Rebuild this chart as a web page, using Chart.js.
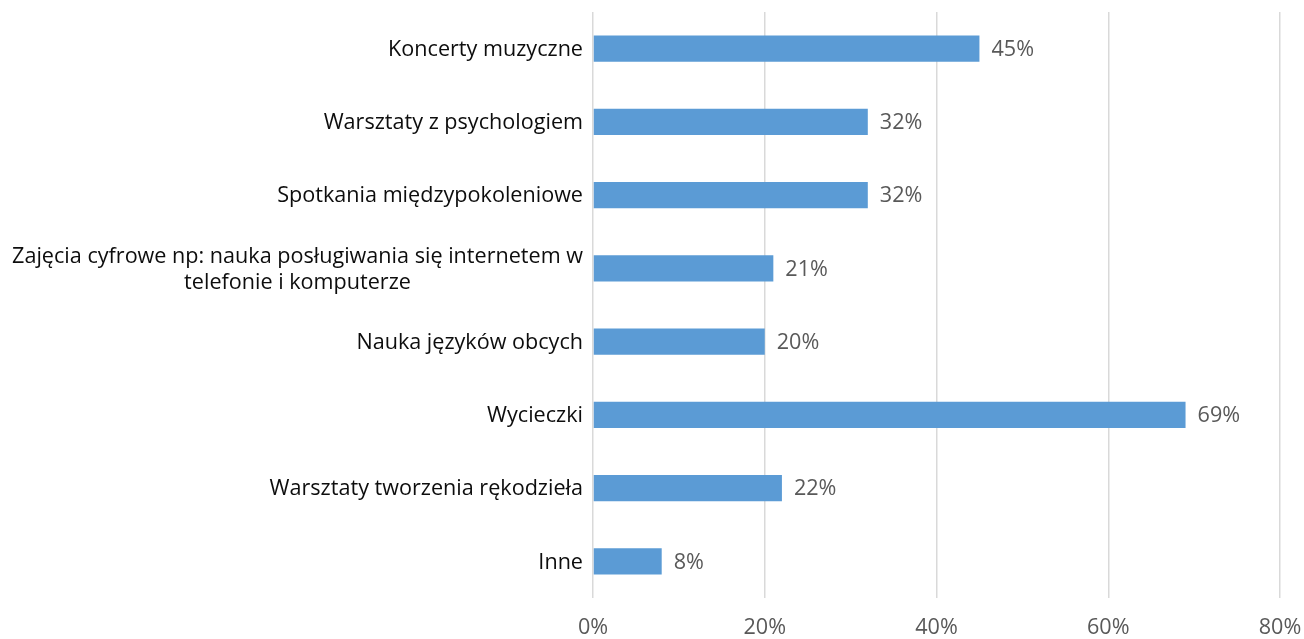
<!DOCTYPE html>
<html>
<head>
<meta charset="utf-8">
<script src="https://cdn.jsdelivr.net/npm/chart.js@4.4.1/dist/chart.umd.min.js"></script>
<style>
  html, body { margin: 0; padding: 0; background: #fff; }
  #wrap { width: 1304px; height: 639px; position: relative; }
</style>
</head>
<body>
<div id="wrap"><canvas id="chart"></canvas></div>
<script>
/* ── Data ── */
const categories = [
  "Koncerty muzyczne",
  "Warsztaty z psychologiem",
  "Spotkania międzypokoleniowe",
  ["Zajęcia cyfrowe np: nauka posługiwania się internetem w", "telefonie i komputerze"],
  "Nauka języków obcych",
  "Wycieczki",
  "Warsztaty tworzenia rękodzieła",
  "Inne"
];
const values   = [45, 32, 32, 21, 20, 69, 22, 8];
const xTicks   = [0, 20, 40, 60, 80];

/* ── Style ── */
const FONT      = "Open Sans";
const FSIZE     = 21.6;
const BAR       = "#5B9BD5";
const GRID      = "#D9D9D9";
const GRAY      = "#595959";
const AXIS_X    = 593;   /* left edge of plot area */

/* value labels at bar ends */
const valueLabels = {
  id: "valueLabels",
  afterDatasetsDraw(chart) {
    const ctx = chart.ctx;
    const meta = chart.getDatasetMeta(0);
    ctx.save();
    ctx.font = `${FSIZE}px "${FONT}"`;
    ctx.fillStyle = GRAY;
    ctx.textAlign = "left";
    ctx.textBaseline = "middle";
    meta.data.forEach((bar, i) => {
      ctx.fillText(values[i] + "%", bar.x + 12, bar.y + 1);
    });
    ctx.restore();
  }
};

/* category labels: block right-aligned, lines centered (Excel style) */
const catLabels = {
  id: "catLabels",
  afterDraw(chart) {
    const ctx = chart.ctx;
    const y = chart.scales.y;
    const right = AXIS_X - 10;
    const lh = 26;
    ctx.save();
    ctx.font = `${FSIZE}px "${FONT}"`;
    ctx.fillStyle = "#0d0d0d";
    ctx.textAlign = "center";
    ctx.textBaseline = "middle";
    categories.forEach((c, i) => {
      const lines = Array.isArray(c) ? c : [c];
      const w = Math.max(...lines.map(l => ctx.measureText(l).width));
      const cx = right - w / 2;
      const cy = y.getPixelForValue(i) + 1;
      const top = cy - (lines.length - 1) * lh / 2;
      lines.forEach((l, k) => ctx.fillText(l, cx, top + k * lh));
    });
    ctx.restore();
  }
};

new Chart(document.getElementById("chart"), {
  type: "bar",
  data: {
    labels: categories,
    datasets: [{
      data: values,
      backgroundColor: BAR,
      borderWidth: 0,
      categoryPercentage: 1,
      barPercentage: 0.355
    }]
  },
  options: {
    indexAxis: "y",
    responsive: true,
    maintainAspectRatio: false,
    animation: false,
    events: [],
    layout: { padding: { top: 12, right: 24, left: 0, bottom: 0 } },
    plugins: { legend: { display: false }, tooltip: { enabled: false } },
    scales: {
      x: {
        min: xTicks[0], max: xTicks[xTicks.length - 1],
        afterBuildTicks: s => { s.ticks = xTicks.map(v => ({ value: v })); },
        afterFit: s => { s.height = 41; s.paddingRight = 0; s.paddingLeft = 0; },
        ticks: {
          color: GRAY, padding: 17,
          font: { family: FONT, size: FSIZE },
          callback: v => v + "%"
        },
        grid: { color: GRID, lineWidth: 1.5, drawTicks: false },
        border: { display: false }
      },
      y: {
        afterFit: s => { s.width = AXIS_X; },
        ticks: { display: false },
        grid: { display: false },
        border: { display: false }
      }
    }
  },
  plugins: [valueLabels, catLabels]
});
</script>
</body>
</html>
